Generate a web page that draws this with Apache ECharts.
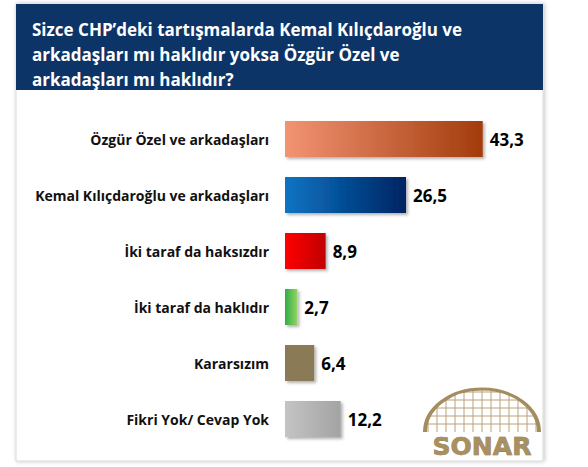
<!DOCTYPE html>
<html>
<head>
<meta charset="utf-8">
<script src="https://cdn.jsdelivr.net/npm/echarts@6/dist/echarts.min.js"></script>
<style>
  html, body { margin: 0; padding: 0; background: #fff; }
  #chart { width: 588px; height: 467px; }
</style>
</head>
<body>
<div id="chart"></div>
<script>
// survey answers, top to bottom
const categories = [
  'Özgür Özel ve arkadaşları',
  'Kemal Kılıçdaroğlu ve arkadaşları',
  'İki taraf da haksızdır',
  'İki taraf da haklıdır',
  'Kararsızım',
  'Fikri Yok/ Cevap Yok'
];
const values = [43.3, 26.5, 8.9, 2.7, 6.4, 12.2];

const titleText = 'Sizce CHP’deki tartışmalarda Kemal Kılıçdaroğlu ve\narkadaşları mı haklıdır yoksa Özgür Özel ve\narkadaşları mı haklıdır?';

// left -> right colour of each bar
const barColors = [
  ['#f29373', '#a23c0c'],
  ['#0a74c4', '#012462'],
  ['#ff0505', '#c00000'],
  ['#2fae48', '#92d460'],
  ['#8b7a57', '#8b7a57'],
  ['#c4c4c4', '#a3a3a3']
];

const FONT = '"Open Sans", sans-serif';

const grad = (c) => new echarts.graphic.LinearGradient(0, 0, 1, 0, [
  { offset: 0, color: c[0] },
  { offset: 1, color: c[1] }
]);

const chart = echarts.init(document.getElementById('chart'), null, { renderer: 'svg' });

// SONAR logo grid, clipped to the half ellipse
const logo = { cx: 482, cy: 432, rx: 57, ry: 43 };
const logoLines = [];
for (let x = logo.cx - 54; x <= logo.cx + 54; x += 9) {
  const dx = (x - logo.cx) / logo.rx;
  const h = logo.ry * Math.sqrt(Math.max(0, 1 - dx * dx));
  logoLines.push({ type: 'line', shape: { x1: x, y1: logo.cy, x2: x, y2: logo.cy - h }, style: { stroke: '#b9a27a', lineWidth: 1 } });
}
for (let y = logo.cy - 8; y > logo.cy - logo.ry; y -= 8) {
  const dy = (logo.cy - y) / logo.ry;
  const w = logo.rx * Math.sqrt(Math.max(0, 1 - dy * dy));
  logoLines.push({ type: 'line', shape: { x1: logo.cx - w, y1: y, x2: logo.cx + w, y2: y }, style: { stroke: '#b9a27a', lineWidth: 1 } });
}

chart.setOption({
  animation: false,
  textStyle: { fontFamily: FONT },
  title: {
    text: titleText,
    left: 27,
    top: 12,
    textStyle: { color: '#fff', fontSize: 17, fontWeight: 'bold', lineHeight: 25, fontFamily: FONT }
  },
  graphic: [
    {
      type: 'rect', z: -10,
      shape: { x: 16, y: 4, width: 527, height: 457 },
      style: { fill: '#fff', stroke: '#d9d9d9', lineWidth: 1, shadowBlur: 4, shadowOffsetX: 1, shadowColor: 'rgba(0,0,0,0.25)' }
    },
    {
      type: 'rect', z: -9,
      shape: { x: 16, y: 4, width: 527, height: 86 },
      style: { fill: '#0d3466' }
    },
    {
      type: 'group', z: -5,
      children: logoLines.concat([
        {
          type: 'arc',
          x: logo.cx, y: logo.cy, scaleY: logo.ry / logo.rx,
          shape: { cx: 0, cy: 0, r: logo.rx, startAngle: Math.PI, endAngle: 2 * Math.PI },
          style: { stroke: '#a48c5e', lineWidth: 4, fill: null }
        },
        {
          type: 'text', x: logo.cx, y: 446,
          style: {
            text: 'SONAR', align: 'center', verticalAlign: 'middle',
            font: 'bold 25px "DejaVu Sans"', fill: '#a8915f',
            stroke: '#6e5a36', lineWidth: 0.6
          }
        }
      ])
    }
  ],
  grid: { left: 285, right: 29, top: 111, bottom: 20 },
  xAxis: {
    type: 'value', min: 0, max: 60,
    show: false
  },
  yAxis: {
    type: 'category',
    data: categories,
    inverse: true,
    axisLine: { show: false },
    axisTick: { show: false },
    axisLabel: {
      margin: 16, color: '#111', fontSize: 14, fontWeight: 'bold',
      fontFamily: FONT
    }
  },
  series: [{
    type: 'bar',
    barWidth: 36,
    data: values.map((v, i) => ({
      value: v,
      itemStyle: { color: grad(barColors[i]) }
    })),
    itemStyle: {
      shadowBlur: 3, shadowOffsetX: 2, shadowOffsetY: 2, shadowColor: 'rgba(0,0,0,0.3)'
    },
    label: {
      show: true, position: 'right', distance: 7,
      color: '#000', fontSize: 17, fontWeight: 'bold',
      fontFamily: FONT,
      formatter: (p) => String(p.value).replace('.', ',')
    }
  }]
});
</script>
</body>
</html>
